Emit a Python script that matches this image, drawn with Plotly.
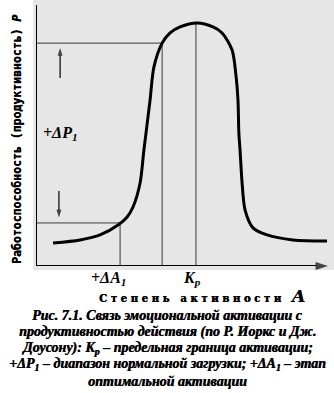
import plotly.graph_objects as go

# ---- data (activation A vs productivity P, arbitrary units 0..100) ----
activation = [5.8, 15.0, 21.8, 27.9, 31.0, 33.0, 35.4, 36.7, 38.8, 40.1, 42.9, 45.6, 49.0,
              54.8, 60.2, 63.3, 66.7, 68.0, 68.7, 69.0, 69.4, 70.1, 71.1, 73.8, 78.6, 87.4, 99.0]
productivity = [8.8, 10.0, 11.9, 15.7, 18.8, 22.6, 31.8, 44.4, 63.6, 76.2, 85.4, 89.3, 91.6,
                 93.1, 91.6, 89.3, 82.8, 73.2, 63.6, 51.0, 44.4, 31.8, 21.5, 14.6, 11.9, 10.0, 9.6]

# reference levels
dA1_x = 28.6      # +ΔA1 (optimal activation stage)
p_low = 16.5      # lower bound of normal load
p_high = 85.4     # upper bound of normal load
opt_x = 42.9
kp_x = 54.4       # Kp
kp_p = 93.1

caption_lines = [
    "Рис. 7.1. Связь эмоциональной активации с",
    "продуктивностью действия (по Р. Иоркс и Дж.",
    "Доусону): <i>K<sub>p</sub></i> – предельная граница активации;",
    "+ΔP<sub>1</sub> – диапазон нормальной загрузки; +ΔA<sub>1</sub> – этап",
    "оптимальной активации",
]
y_title = "Работоспособность (продуктивность) <i>P</i>"
x_title_words = ["Степень", "активности"]

W, H = 334, 393
L, R, T, B = 36, 4, 5, 127


def px(xp):
    return (xp - L) / (W - L - R)


def py(yp):
    return (H - B - yp) / (H - B - T)


fig = go.Figure()

# dotted background imitation
fig.add_shape(type="rect", xref="paper", yref="paper", x0=px(33), x1=px(334), y0=py(270), y1=py(0),
              fillcolor="#e6e6e6", line_width=0, layer="below")

thin = dict(color="#3a3a3a", width=1)
# guide lines
fig.add_trace(go.Scatter(x=[0, opt_x, opt_x], y=[p_high, p_high, 0], mode="lines", line=thin,
                         hoverinfo="skip", cliponaxis=False))
fig.add_trace(go.Scatter(x=[0, dA1_x, dA1_x], y=[p_low, p_low, 0], mode="lines", line=thin,
                         hoverinfo="skip", cliponaxis=False))
fig.add_trace(go.Scatter(x=[kp_x, kp_x], y=[0, kp_p], mode="lines", line=thin,
                         hoverinfo="skip", cliponaxis=False))

# curve
fig.add_trace(go.Scatter(x=activation, y=productivity, mode="lines",
                         line=dict(color="black", width=3, shape="spline", smoothing=0.8),
                         hoverinfo="skip", cliponaxis=False))


def arrow_line(xs, ys, width, head):
    fig.add_trace(go.Scatter(
        x=xs, y=ys, mode="lines+markers", line=dict(color="black", width=width),
        marker=dict(symbol="arrow", angleref="previous", size=[0] * (len(xs) - 1) + [head],
                    color="black", line=dict(width=0)),
        hoverinfo="skip", cliponaxis=False))


# axes with arrows
arrow_line([0, 0], [0, 100.8], 2, 13)
arrow_line([0, 99.3], [0, 0], 2, 13)
# small arrows
arrow_line([8.2, 8.2], [72, 83.5], 1.2, 8)
arrow_line([7.8, 7.8], [28.7, 18.6], 1.2, 8)

ann = []
serif = "Liberation Serif"
ann.append(dict(x=px(41), y=py(133), xref="paper", yref="paper", xanchor="left", yanchor="middle",
                text="<b><i>+ΔP<sub>1</sub></i></b>", showarrow=False,
                font=dict(family=serif, size=16, color="black")))
ann.append(dict(x=24.5, y=py(278), xref="x", yref="paper", xanchor="center", yanchor="middle",
                text="<b><i>+ΔA<sub>1</sub></i></b>", showarrow=False,
                font=dict(family=serif, size=16, color="black")))
ann.append(dict(x=53.0, y=py(278), xref="x", yref="paper", xanchor="center", yanchor="middle",
                text="<b><i>K<sub>p</sub></i></b>", showarrow=False,
                font=dict(family=serif, size=16, color="black")))

nb = "\u00a0"
xt = (nb * 3).join(nb.join(w) for w in x_title_words)
ann.append(dict(x=px(97), y=py(296), xref="paper", yref="paper", xanchor="left", yanchor="middle",
                text="<b>" + xt + nb * 3 + "<i><span style='font-size:17px'>A</span></i></b>",
                showarrow=False, font=dict(family="DejaVu Serif", size=10.2, color="black",
                                           shadow="0.4px 0px 0px black")))

ann.append(dict(x=px(17), y=py(140), xref="paper", yref="paper", xanchor="center", yanchor="middle",
                textangle=-90, text="<b>" + y_title + "</b>", showarrow=False,
                font=dict(family="DejaVu Sans Mono", size=11.5, color="black",
                          shadow="0.4px 0px 0px black")))

cap_y = [315, 331.5, 348, 364.5, 381]
for line, yy in zip(caption_lines, cap_y):
    ann.append(dict(x=px(167), y=py(yy), xref="paper", yref="paper", xanchor="center", yanchor="middle",
                    text="<b><i>" + line + "</i></b>", showarrow=False,
                    font=dict(family=serif, size=14, color="black", shadow="0.5px 0px 0px black")))

fig.update_layout(
    width=W, height=H, margin=dict(l=L, r=R, t=T, b=B),
    paper_bgcolor="white", plot_bgcolor="rgba(0,0,0,0)",
    showlegend=False, annotations=ann,
    xaxis=dict(range=[0, 100], visible=False, fixedrange=True),
    yaxis=dict(range=[0, 100], visible=False, fixedrange=True),
)

fig.write_html("out.html", config={"displayModeBar": False})
